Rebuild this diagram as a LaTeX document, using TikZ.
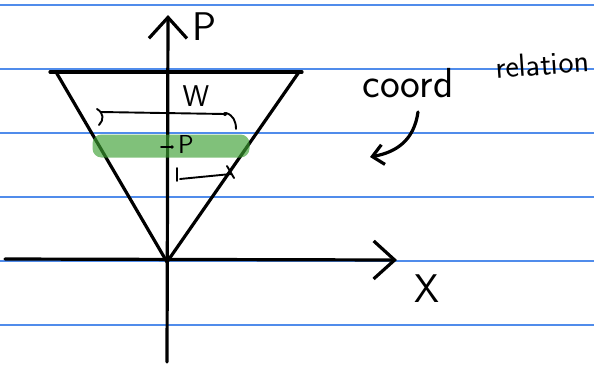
\documentclass[tikz,border=0pt]{standalone}
\usetikzlibrary{arrows.meta,positioning}
\definecolor{ruleblue}{RGB}{80,140,235}
\definecolor{bandgreen}{RGB}{60,160,50}

\begin{document}
\begin{tikzpicture}[
    x=1pt, y=-1pt,
    font=\sffamily,
    ink/.style={line width=3.2pt, line cap=round, line join=round},
    rule/.style={line width=1.2pt, draw=ruleblue},
    axis/.style={ink, -{Straight Barb[length=21pt, width=38pt]}},
    measure/.style={line width=1.9pt, line cap=round},
    band/.style={rectangle, rounded corners=9pt, fill=bandgreen, fill opacity=0.65, minimum width=157pt, minimum height=23pt, inner sep=0pt},
    hand/.style={inner sep=0pt, font=\sffamily\fontsize{#1}{#1}\selectfont},
    hand/.default=40
]
\useasboundingbox (0,0) rectangle (594,373);

% ruled paper
\foreach \y in {5,69,133,197,261,325}
  \draw[rule] (0,\y) -- (594,\y);

% axes
\coordinate (origin) at (167,262);
\coordinate (pbot) at (167,362);
\coordinate (ptop) at (168,15);
\coordinate (xleft) at (5,259);
\coordinate (xtip) at (397,260);
\draw[axis] (pbot) -- (ptop);
\draw[axis] (xleft) -- (xtip);
\node[hand] (plabel) at (204,27) {P};
\node[hand] (xlabel) at (427,289) {X};

% cone
\coordinate (tl) at (50,72);
\coordinate (tr) at (302,72);
\coordinate (al) at (56,72);
\coordinate (ar) at (299,72);
\draw[ink] (tl) -- (tr);
\draw[ink] (al) -- (origin) -- (ar);

% strip at height p
\node[band] (strip) at (171,146) {};
\coordinate (tick) at (161,147);
\draw[measure] (tick) -- ++(11,0);
\fill (172,147) circle (1.8pt);
\node[hand=26] (psmall) at (186,144) {P};

% width w
\coordinate (wl) at (101,112);
\coordinate (wr) at (225,114);
\draw[measure] (wl) -- (wr);
\fill (wr) circle (2pt);
\draw[measure] (97,109) .. controls (104,113) and (104,120) .. (99,125);
\draw[measure] (226,113) .. controls (233,115) and (236,121) .. (236,129);
\node[hand=30] (wlabel) at (196,96) {W};

% half width
\coordinate (hl) at (180,179);
\coordinate (hr) at (231,174);
\draw[measure] (177,168) -- (177,181);
\draw[measure] (hl) -- (hr);
\draw[measure] (227,166) -- (234,178);

% note
\node[hand=42] (coord) at (408,83) {coord};
\node[hand=32, rotate=4] (reln) at (542,64) {relation};
\coordinate (cstart) at (418,112);
\coordinate (cend) at (370,157);
\draw[ink, -{Straight Barb[length=11pt, width=20pt]}] (cstart) .. controls (414,140) and (397,152) .. (cend);
\end{tikzpicture}
\end{document}
